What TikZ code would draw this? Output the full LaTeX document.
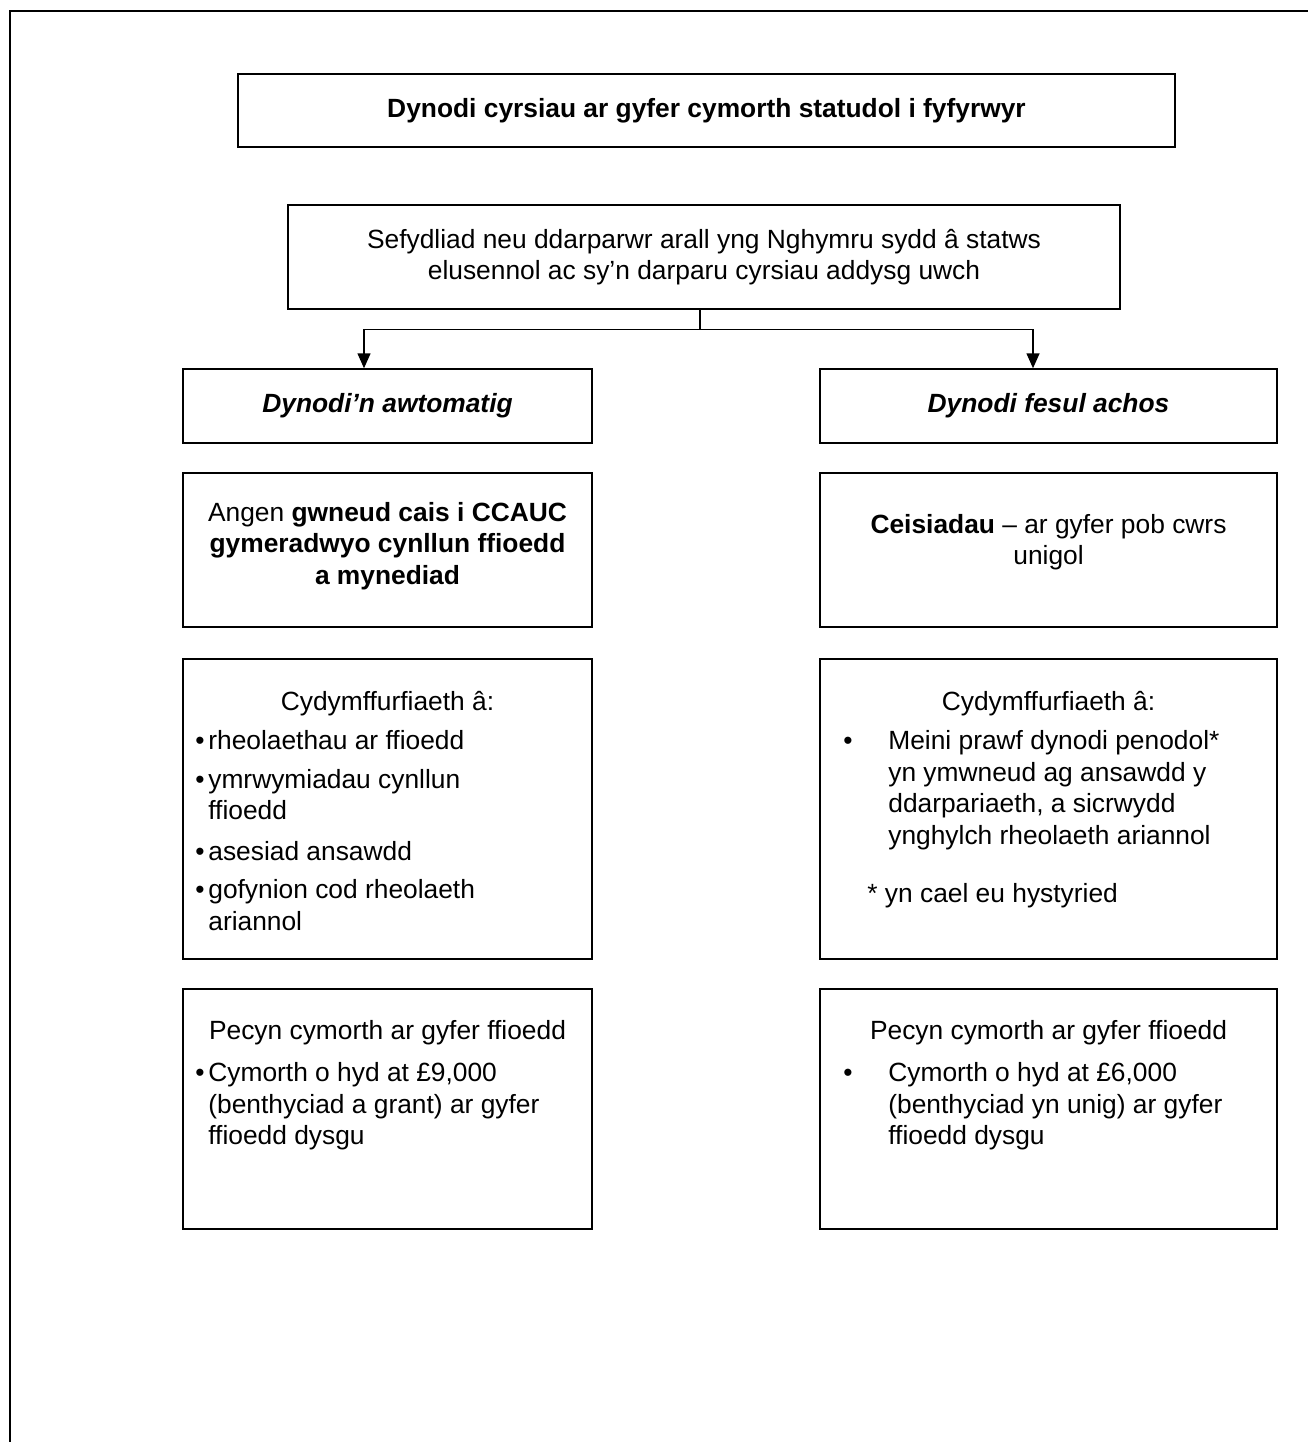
\documentclass[tikz,border=0pt]{standalone}
\usepackage{fontspec}
\setmainfont{Liberation Sans}
\usetikzlibrary{arrows.meta, positioning}

% bullet with its text block hanging beside it
\newcommand{\pwynt}[2]{\makebox[#1][l]{\textbullet}\begin{tabular}[t]{@{}l@{}}#2\end{tabular}}

\begin{document}
\begin{tikzpicture}[
    x=0.02cm, y=-0.02cm,
    blwch/.style={rectangle, draw=black, line width=0.85pt, inner sep=0pt,
                  align=center, font=\fontsize{15}{18}\selectfont},
    colchwith/.style={blwch, minimum width=8.18cm},
    coldde/.style={blwch, minimum width=9.14cm},
    testun/.style={inner sep=0pt, align=center, font=\fontsize{15}{18}\selectfont},
    rhestr/.style={inner sep=0pt, align=left, anchor=north west, font=\fontsize{15}{18}\selectfont},
    ffram/.style={line width=1.3pt},
    llinell/.style={line width=0.85pt},
    saeth/.style={-{Triangle[length=0.3cm, width=0.26cm]}, line width=0.85pt},
  ]
  \useasboundingbox (0,0) rectangle (1308,1442);

  % page frame
  \draw[ffram] (10,1442) -- (10,11) -- (1308,11);

  % top boxes
  \node[blwch, minimum width=18.74cm, minimum height=1.46cm] (teitl) at (706.5,110.5)
    {\textbf{Dynodi cyrsiau ar gyfer cymorth statudol i fyfyrwyr}};
  \node[blwch, minimum width=16.64cm, minimum height=2.08cm] (darparwr) at (704,257)
    {Sefydliad neu ddarparwr arall yng Nghymru sydd â statws\\elusennol ac sy’n darparu cyrsiau addysg uwch};

  % left column
  \node[colchwith, minimum height=1.48cm] (awto) at (387.5,406) {\textbf{\textit{Dynodi’n awtomatig}}};
  \node[colchwith, minimum height=3.08cm] (cais) at (387.5,550) {};
  \node[colchwith, minimum height=6.00cm] (cydchwith) at (387.5,809) {};
  \node[colchwith, minimum height=4.80cm] (pecchwith) at (387.5,1109) {};

  % right column
  \node[coldde, minimum height=1.48cm] (achos) at (1048.5,406) {\textbf{\textit{Dynodi fesul achos}}};
  \node[coldde, minimum height=3.08cm] (ceisiadau) at (1048.5,550) {};
  \node[coldde, minimum height=6.00cm] (cyddde) at (1048.5,809) {};
  \node[coldde, minimum height=4.80cm] (pecdde) at (1048.5,1109) {};

  % texts in the boxes
  \node[testun] (cais-t) at (387.5,546)
    {Angen \textbf{gwneud cais i CCAUC}\\\textbf{gymeradwyo cynllun ffioedd}\\\textbf{a mynediad}};
  \node[testun] (ceisiadau-t) at (1048.5,542) {\textbf{Ceisiadau} – ar gyfer pob cwrs\\unigol};

  \node[testun, anchor=base] (cydchwith-p) at (387.5,710) {Cydymffurfiaeth â:};
  \node[rhestr] (cydchwith-r) at (195,727)
    {\pwynt{0.26cm}{rheolaethau ar ffioedd}\\[4pt]
     \pwynt{0.26cm}{ymrwymiadau cynllun\\ffioedd}\\[4pt]
     \pwynt{0.26cm}{asesiad ansawdd}\\[4pt]
     \pwynt{0.26cm}{gofynion cod rheolaeth\\ariannol}};

  \node[testun, anchor=base] (cyddde-p) at (1048.5,710) {Cydymffurfiaeth â:};
  \node[rhestr] (cyddde-r) at (843,727)
    {\pwynt{0.9cm}{Meini prawf dynodi penodol*\\yn ymwneud ag ansawdd y\\ddarpariaeth, a sicrwydd\\ynghylch rheolaeth ariannol}};
  \node[testun, anchor=base west] (seren) at (867,902) {* yn cael eu hystyried};

  \node[testun, anchor=base] (pecchwith-p) at (387.5,1039) {Pecyn cymorth ar gyfer ffioedd};
  \node[rhestr] (pecchwith-r) at (195,1059)
    {\pwynt{0.26cm}{Cymorth o hyd at £9,000\\(benthyciad a grant) ar gyfer\\ffioedd dysgu}};

  \node[testun, anchor=base] (pecdde-p) at (1048.5,1039) {Pecyn cymorth ar gyfer ffioedd};
  \node[rhestr] (pecdde-r) at (843,1059)
    {\pwynt{0.9cm}{Cymorth o hyd at £6,000\\(benthyciad yn unig) ar gyfer\\ffioedd dysgu}};

  % connectors
  \draw[llinell] ([xshift=-0.08cm]darparwr.south) -- ++(0,20) coordinate (hollt);
  \draw[saeth] (hollt) -| ([xshift=-0.47cm]awto.north);
  \draw[saeth] (hollt) -| ([xshift=-0.31cm]achos.north);

\end{tikzpicture}
\end{document}
